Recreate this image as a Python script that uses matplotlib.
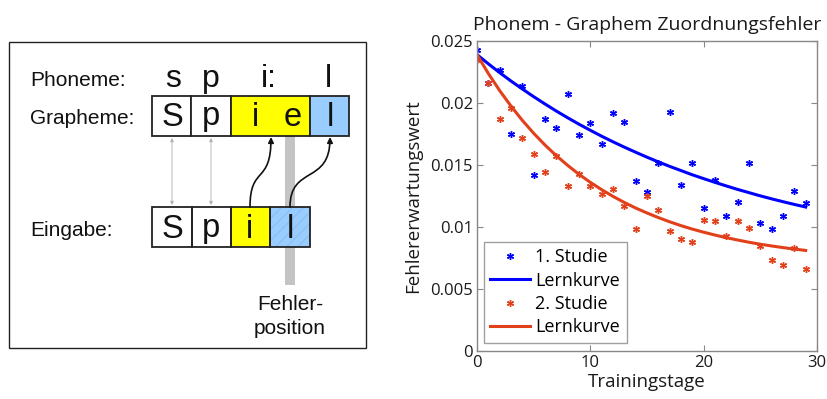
import matplotlib
matplotlib.use("Agg")
import matplotlib.pyplot as plt
from matplotlib.patches import Rectangle, FancyArrowPatch
from matplotlib.path import Path
import numpy as np

# ---------------- data ----------------
days = list(range(30))
study1 = [0.0243, 0.0216, 0.0227, 0.0175, 0.0214, 0.0142, 0.0187, 0.0180, 0.0207, 0.0174,
          0.0184, 0.0167, 0.0192, 0.0185, 0.0137, 0.0128, 0.0152, 0.0193, 0.0134, 0.0152,
          0.0115, 0.0138, 0.0109, 0.0120, 0.0152, 0.0103, 0.0098, 0.0109, 0.0129, 0.0119]
study2 = [0.0235, 0.0216, 0.0187, 0.0196, 0.0172, 0.0159, 0.0144, 0.0157, 0.0133, 0.0143,
          0.0133, 0.0127, 0.0131, 0.0117, 0.0098, 0.0125, 0.0114, 0.0097, 0.0090, 0.0088,
          0.0106, 0.0105, 0.0093, 0.0105, 0.0099, 0.0085, 0.0073, 0.0069, 0.0083, 0.0066]
curve1 = [0.0239, 0.02316, 0.02245, 0.02177, 0.02113, 0.02051, 0.01992, 0.01935, 0.01881, 0.01829,
          0.01780, 0.01732, 0.01687, 0.01644, 0.01603, 0.01563, 0.01525, 0.01489, 0.01455, 0.01421,
          0.01390, 0.01360, 0.01331, 0.01303, 0.01277, 0.01251, 0.01227, 0.01204, 0.01182, 0.01161]
curve2 = [0.0239, 0.02238, 0.02100, 0.01975, 0.01860, 0.01756, 0.01661, 0.01575, 0.01497, 0.01425,
          0.01360, 0.01301, 0.01247, 0.01198, 0.01153, 0.01113, 0.01076, 0.01042, 0.01011, 0.00983,
          0.00958, 0.00935, 0.00914, 0.00895, 0.00877, 0.00861, 0.00847, 0.00834, 0.00822, 0.00811]
xticks = [0, 10, 20, 30]
yticks = [0, 0.005, 0.01, 0.015, 0.02, 0.025]
ytick_labels = ["0", "0.005", "0.01", "0.015", "0.02", "0.025"]
legend_labels = ["1. Studie", "Lernkurve", "2. Studie", "Lernkurve"]

phonemes = ["s", "p", "i:", "l"]
graphemes = ["S", "p", "i", "e", "l"]
inputs = ["S", "p", "i", "l"]

BLUE = "#0000ff"
RED = "#e2401b"
YELLOW = "#ffff00"
LBLUE = "#99ccff"

W, H = 827, 399
fig = plt.figure(figsize=(W / 100, H / 100), dpi=100)

# ---------------- left diagram (pixel coordinates) ----------------
ax0 = fig.add_axes([0, 0, 1, 1])
ax0.set_xlim(0, W)
ax0.set_ylim(H, 0)
ax0.axis("off")

dfont = "Liberation Sans"
ax0.add_patch(Rectangle((9, 42), 357, 306, fill=False, edgecolor="#222222", lw=1.0))

for lab, y in [("Phoneme:", 80), ("Grapheme:", 118), ("Eingabe:", 230)]:
    ax0.text(30, y, lab, fontsize=15, family=dfont, va="center", ha="left", color="#111111")

for ch, x in zip(phonemes, [173, 211, 269, 328]):
    ax0.text(x, 79, ch, fontsize=23, family=dfont, va="center", ha="center", color="#111111")

# gray error-position bar (behind cells)
ax0.add_patch(Rectangle((285, 136), 10, 149, facecolor="#c4c4c4", edgecolor="none", zorder=1))

# grapheme row
gy0, gy1 = 96, 136
cells_g = [(152, 191, "white"), (191, 231, "white"), (231, 310, YELLOW), (310, 349, LBLUE)]
for x0, x1, c in cells_g:
    ax0.add_patch(Rectangle((x0, gy0), x1 - x0, gy1 - gy0, facecolor=c, edgecolor="#222222", lw=1.3, zorder=2))
for ch, x in zip(graphemes, [172, 211, 255, 293, 330]):
    ax0.text(x, 117, ch, fontsize=23.5, family=dfont, va="center", ha="center", color="#111111", zorder=3)

# input row
ey0, ey1 = 207, 247
cells_e = [(152, 192, "white"), (192, 231, "white"), (231, 270, YELLOW), (270, 310, LBLUE)]
plt.rcParams["hatch.linewidth"] = 0.6
for i, (x0, x1, c) in enumerate(cells_e):
    ax0.add_patch(Rectangle((x0, ey0), x1 - x0, ey1 - ey0, facecolor=c, edgecolor="none", zorder=2))
    if i == 3:
        ax0.add_patch(Rectangle((x0, ey0), x1 - x0, ey1 - ey0, facecolor="none", edgecolor="#86b8ee",
                                hatch="///", lw=0, zorder=2.1))
    ax0.add_patch(Rectangle((x0, ey0), x1 - x0, ey1 - ey0, facecolor="none", edgecolor="#222222", lw=1.3, zorder=2.2))
for ch, x in zip(inputs, [172, 211, 250, 290]):
    ax0.text(x, 229, ch, fontsize=23.5, family=dfont, va="center", ha="center", color="#111111", zorder=3)

# thin gray double arrows
for x in [172, 211]:
    ax0.add_patch(FancyArrowPatch((x, 138), (x, 205), arrowstyle="<|-|>", mutation_scale=5,
                                  color="#b0b0b0", lw=0.6, shrinkA=0, shrinkB=0, zorder=2))

# black curved arrows
for (xs, xe) in [(250, 271), (290, 330)]:
    p = Path([(xs, ey0), (xs, 165), (xe, 185), (xe, gy1 + 1)],
             [Path.MOVETO, Path.CURVE4, Path.CURVE4, Path.CURVE4])
    ax0.add_patch(FancyArrowPatch(path=p, arrowstyle="-|>", mutation_scale=8, color="#111111",
                                  lw=1.2, zorder=4))

ax0.text(290, 304, "Fehler-", fontsize=15, family=dfont, va="center", ha="center", color="#111111")
ax0.text(290, 328, "position", fontsize=15, family=dfont, va="center", ha="center", color="#111111")

# ---------------- right chart ----------------
cfont = "Open Sans"
ax = fig.add_axes([477 / W, 1 - 351 / H, 340 / W, 310 / H])
ax.plot(days, study1, linestyle="none", marker=(6, 2, 0), markersize=5, mew=1.0, color=BLUE,
        label=legend_labels[0])
ax.plot(days, curve1, color=BLUE, lw=2.2, label=legend_labels[1])
ax.plot(days, study2, linestyle="none", marker=(6, 2, 0), markersize=5, mew=1.0, color=RED,
        label=legend_labels[2])
ax.plot(days, curve2, color=RED, lw=2.2, label=legend_labels[3])

ax.set_xlim(0, 30)
ax.set_ylim(0, 0.025)
ax.set_xticks(xticks)
ax.set_yticks(yticks)
ax.set_yticklabels(ytick_labels)
ax.tick_params(direction="in", top=True, right=True, length=4, color="#888888",
               labelsize=12, labelcolor="#1a1a1a", pad=3)
for lbl in ax.get_xticklabels() + ax.get_yticklabels():
    lbl.set_family(cfont)
for s in ax.spines.values():
    s.set_color("#888888")
    s.set_linewidth(1.0)

ax.set_xlabel("Trainingstage", fontsize=13.5, family=cfont, color="#1a1a1a", labelpad=1)
ax.set_ylabel("Fehlererwartungswert", fontsize=13.5, family=cfont, color="#1a1a1a", labelpad=6)
ax.set_title("Phonem - Graphem Zuordnungsfehler", fontsize=14, family=cfont, color="#1a1a1a", pad=8)

leg = ax.legend(loc="lower left", bbox_to_anchor=(0.01, 0.015), prop={"family": cfont, "size": 13},
                frameon=True, fancybox=False, edgecolor="#888888", handlelength=2.2,
                handletextpad=0.3, borderpad=0.35, labelspacing=0.3, borderaxespad=0.2, numpoints=1)
leg.get_frame().set_linewidth(1.0)

fig.savefig("out.png", dpi=100)
